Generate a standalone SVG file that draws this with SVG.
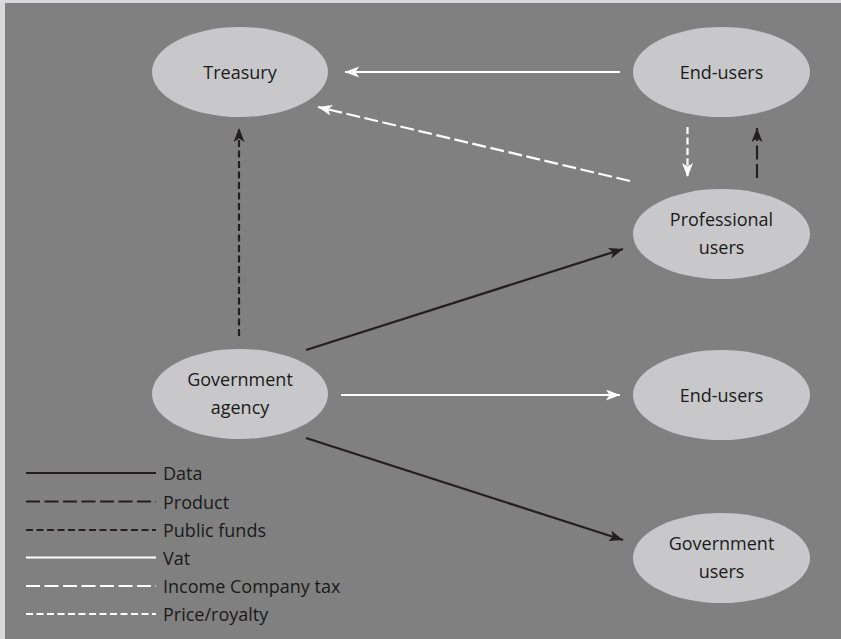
<svg xmlns="http://www.w3.org/2000/svg" width="841" height="639" viewBox="0 0 841 639">
  <style>
    .node { fill: #c8c8ca; }
    .label { font-family: "Open Sans", "Noto Sans", sans-serif; font-size: 18px; fill: #1a1a1a; text-anchor: middle; }
    .legtext { font-family: "Open Sans", "Noto Sans", sans-serif; font-size: 18px; fill: #1a1a1a; }
    .blk { stroke: #231f20; stroke-width: 2.2; fill: none; }
    .wht { stroke: #ffffff; stroke-width: 2.2; fill: none; }
    .long { stroke-dasharray: 14 4.5; }
    .short { stroke-dasharray: 7 3.5; }
  </style>
  <defs>
    <marker id="ab" markerUnits="userSpaceOnUse" markerWidth="16" markerHeight="12" refX="14" refY="5.5" orient="auto">
      <path d="M0,0 L14,5.5 L0,11 L3.5,5.5 z" fill="#231f20"/>
    </marker>
    <marker id="aw" markerUnits="userSpaceOnUse" markerWidth="16" markerHeight="12" refX="14" refY="5.5" orient="auto">
      <path d="M0,0 L14,5.5 L0,11 L3.5,5.5 z" fill="#ffffff"/>
    </marker>
  </defs>
  <rect x="0" y="0" width="841" height="639" fill="#d9d9db"/>
  <rect x="5" y="3" width="836" height="636" fill="#808080"/>

  <g id="connectors">
    <line class="wht" x1="620" y1="72" x2="345" y2="72" marker-end="url(#aw)"/>
    <line class="wht long" x1="630" y1="181" x2="318" y2="107" marker-end="url(#aw)"/>
    <line class="wht short" x1="687.5" y1="127" x2="687.5" y2="177" marker-end="url(#aw)"/>
    <line class="blk long" x1="757" y1="178" x2="757" y2="128" marker-end="url(#ab)"/>
    <line class="blk short" x1="239" y1="336" x2="239" y2="128" marker-end="url(#ab)"/>
    <line class="blk" x1="306" y1="350" x2="623" y2="249" marker-end="url(#ab)"/>
    <line class="wht" x1="341" y1="395" x2="620" y2="395" marker-end="url(#aw)"/>
    <line class="blk" x1="306" y1="438" x2="623" y2="540" marker-end="url(#ab)"/>
  </g>

  <g id="treasury">
    <ellipse class="node" cx="240" cy="72" rx="88" ry="45"/>
    <text class="label" x="240" y="79">Treasury</text>
  </g>
  <g id="end-users-top">
    <ellipse class="node" cx="721.5" cy="72" rx="88.5" ry="45"/>
    <text class="label" x="721.5" y="79">End-users</text>
  </g>
  <g id="professional-users">
    <ellipse class="node" cx="721.5" cy="234" rx="88.5" ry="45"/>
    <text class="label" x="721.5" y="226">Professional</text>
    <text class="label" x="721.5" y="254">users</text>
  </g>
  <g id="government-agency">
    <ellipse class="node" cx="240" cy="394" rx="88" ry="45"/>
    <text class="label" x="240" y="386">Government</text>
    <text class="label" x="240" y="414">agency</text>
  </g>
  <g id="end-users-mid">
    <ellipse class="node" cx="721.5" cy="395" rx="88.5" ry="45"/>
    <text class="label" x="721.5" y="402">End-users</text>
  </g>
  <g id="government-users">
    <ellipse class="node" cx="721.5" cy="558" rx="88.5" ry="45"/>
    <text class="label" x="721.5" y="550">Government</text>
    <text class="label" x="721.5" y="578">users</text>
  </g>

  <g id="legend">
    <line class="blk" x1="26" y1="473" x2="156" y2="473"/>
    <text class="legtext" x="163" y="480">Data</text>
    <line class="blk long" x1="26" y1="501.5" x2="156" y2="501.5"/>
    <text class="legtext" x="163" y="508.5">Product</text>
    <line class="blk short" x1="26" y1="530" x2="156" y2="530"/>
    <text class="legtext" x="163" y="537">Public funds</text>
    <line class="wht" x1="26" y1="557.5" x2="156" y2="557.5"/>
    <text class="legtext" x="163" y="564.5">Vat</text>
    <line class="wht long" x1="26" y1="586" x2="156" y2="586"/>
    <text class="legtext" x="163" y="593">Income Company tax</text>
    <line class="wht short" x1="26" y1="614" x2="156" y2="614"/>
    <text class="legtext" x="163" y="621">Price/royalty</text>
  </g>
</svg>
